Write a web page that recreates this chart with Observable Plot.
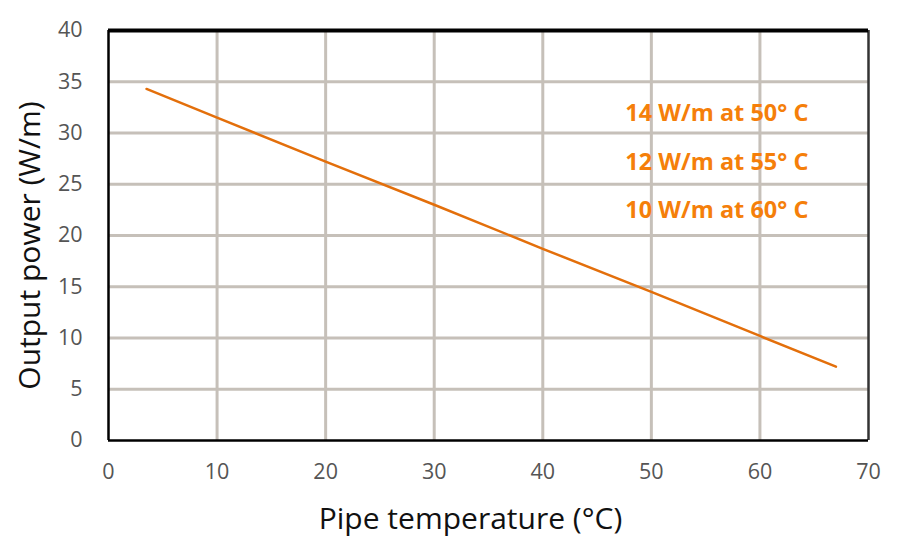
<!DOCTYPE html>
<html>
<head>
<meta charset="utf-8">
<script src="https://cdn.jsdelivr.net/npm/d3@7"></script>
<script src="https://cdn.jsdelivr.net/npm/@observablehq/plot@0.6"></script>
<style>
  html, body { margin: 0; padding: 0; background: #fff; }
  svg { font-family: "Open Sans", sans-serif; }
</style>
</head>
<body>
<div id="chart"></div>
<script>
// Pipe temperature (°C) vs output power (W/m)
const temperature = [3.5, 10, 20, 30, 40, 50, 60, 67];
const power = [34.3, 31.5, 27.2, 23.0, 18.7, 14.5, 10.2, 7.2];

const xTicks = [0, 10, 20, 30, 40, 50, 60, 70];
const yTicks = [0, 5, 10, 15, 20, 25, 30, 35, 40];

const notes = ["14 W/m at 50° C", "12 W/m at 55° C", "10 W/m at 60° C"];
const noteX = [47.6, 47.6, 47.6];
const noteY = [31.9, 27.1, 22.4];

const data = temperature.map((t, i) => ({t, p: power[i]}));
const noteData = notes.map((n, i) => ({text: n, x: noteX[i], y: noteY[i]}));

const gridColor = "#c6c0b9";

const chart = Plot.plot({
  width: 905,
  height: 551,
  marginLeft: 108,
  marginRight: 37,
  marginTop: 30,
  marginBottom: 111,
  style: {fontFamily: "Open Sans, sans-serif", background: "#fff"},
  x: {domain: [0, 70]},
  y: {domain: [0, 40]},
  marks: [
    Plot.ruleX(xTicks.filter(d => d > 0 && d < 70), {stroke: gridColor, strokeWidth: 3}),
    Plot.ruleY(yTicks.filter(d => d > 0 && d < 40), {stroke: gridColor, strokeWidth: 3}),
    Plot.ruleX([0], {stroke: "#000", strokeWidth: 2.5}),
    Plot.ruleX([70], {stroke: "#333", strokeWidth: 2.5}),
    Plot.ruleY([0], {stroke: "#000", strokeWidth: 2.5}),
    Plot.ruleY([40], {stroke: "#000", strokeWidth: 4}),
    Plot.axisX({ticks: xTicks, tickSize: 0, tickPadding: 23, fontSize: 21.5, color: "#555", label: null}),
    Plot.axisY({ticks: yTicks, tickSize: 0, tickPadding: 26, fontSize: 21.5, color: "#555", label: null}),
    Plot.line(data, {x: "t", y: "p", stroke: "#e36f0b", strokeWidth: 2.5}),
    Plot.text(noteData, {x: "x", y: "y", text: "text", textAnchor: "start", fill: "#f57f0a", fontSize: 23.5, fontWeight: "bold"}),
    Plot.text(["Pipe temperature (°C)"], {frameAnchor: "bottom", lineAnchor: "middle", dx: -18, dy: 79, fontSize: 30, fill: "#111"}),
    Plot.text(["Output power (W/m)"], {frameAnchor: "left", textAnchor: "middle", lineAnchor: "middle", rotate: -90, dx: -78, dy: 10, fontSize: 30, fill: "#111"})
  ]
});
document.getElementById("chart").appendChild(chart);
</script>
</body>
</html>
